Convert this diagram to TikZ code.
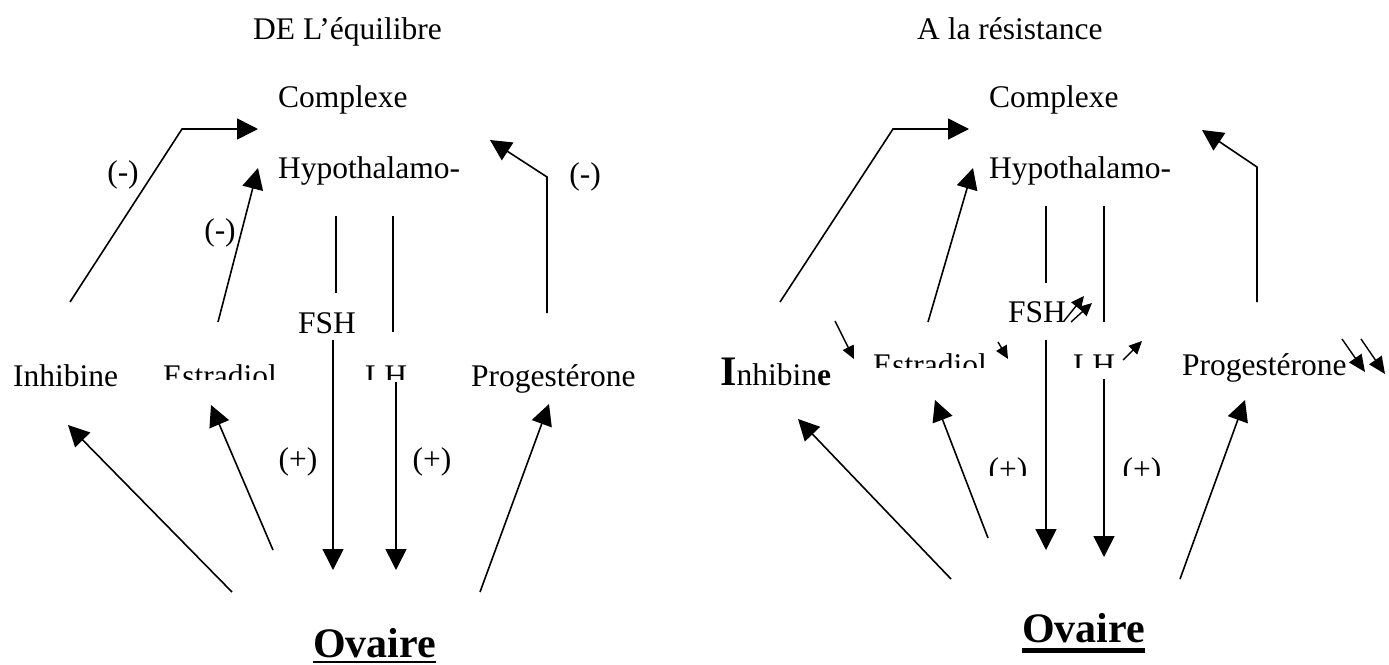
\documentclass[tikz,border=0pt]{standalone}
\usepackage{fontspec}
\setmainfont{Liberation Serif}
\usetikzlibrary{arrows.meta}
\begin{document}
\begin{tikzpicture}[x=1pt,y=-1pt,
  txt/.style={inner sep=0pt, anchor=base west, font=\fontsize{31.5}{36}\selectfont},
  ctr/.style={inner sep=0pt, anchor=center, font=\fontsize{31.5}{36}\selectfont},
  bigbold/.style={inner sep=0pt, anchor=base west, font=\fontsize{42}{48}\selectfont\bfseries},
  conn/.style={line width=1.6pt, line join=miter},
  arr/.style={conn, -{Triangle[length=21pt,width=21pt]}},
  sarr/.style={line width=1.4pt, -{Triangle[length=13pt,width=12pt]}},
  larr/.style={line width=1.4pt, -{Triangle[length=17pt,width=15pt]}},
]
\fill[white] (0,0) rectangle (1389,664);
\useasboundingbox (0,0) rectangle (1389,664);

% ---------------- Left panel ----------------
\node[txt] (titleL) at (253,39) {DE L’équilibre};
\node[txt] (cxL) at (278,107) {Complexe};
\node[txt] (hyL) at (278,178) {Hypothalamo-};
\node[ctr] (m1L) at (123,175) {(-)};
\node[ctr] (m2L) at (220,233) {(-)};
\node[ctr] (m3L) at (585,177) {(-)};
\node[txt] (fshL) at (298,333) {FSH};
\node[txt] (inhL) at (13,386) {Inhibine};
\node[txt] (progL) at (471,386) {Progestérone};
\begin{scope}
  \clip (150,340) rectangle (420,379);
  \node[txt] (estL) at (163,386) {Estradiol};
  \node[txt] (lhL) at (365,386) {LH};
\end{scope}
\node[ctr] (p1L) at (298,462) {(+)};
\node[ctr] (p2L) at (432,462) {(+)};
\node[bigbold] (ovL) at (313,657) {Ovaire};
\draw[line width=2pt] ([yshift=-5pt]ovL.base west) -- ([yshift=-5pt]ovL.base east);

\coordinate (iL0) at (70,302);  \coordinate (iL1) at (182,129); \coordinate (iL2) at (258,129);
\coordinate (eL0) at (218,322); \coordinate (eL1) at (258,168);
\coordinate (gL0) at (547,313); \coordinate (gL1) at (547,177); \coordinate (gL2) at (490,140);
\coordinate (fL0) at (336,216); \coordinate (fL1) at (336,293);
\coordinate (lL0) at (393,216); \coordinate (lL1) at (393,332);
\coordinate (fL2) at (333,340); \coordinate (fL3) at (333,570);
\coordinate (lL2) at (396,382); \coordinate (lL3) at (396,570);
\coordinate (oiL0) at (232,592); \coordinate (oiL1) at (68,425);
\coordinate (oeL0) at (273,550); \coordinate (oeL1) at (211,405);
\coordinate (ogL0) at (480,592); \coordinate (ogL1) at (549,404);

\draw[arr] (iL0) -- (iL1) -- (iL2);
\draw[arr] (eL0) -- (eL1);
\draw[arr] (gL0) -- (gL1) -- (gL2);
\draw[conn] (fL0) -- (fL1);
\draw[conn] (lL0) -- (lL1);
\draw[arr] (fL2) -- (fL3);
\draw[arr] (lL2) -- (lL3);
\draw[arr] (oiL0) -- (oiL1);
\draw[arr] (oeL0) -- (oeL1);
\draw[arr] (ogL0) -- (ogL1);

% ---------------- Right panel ----------------
\node[txt] (titleR) at (917,39) {A la résistance};
\node[txt] (cxR) at (989,107) {Complexe};
\node[txt] (hyR) at (989,178) {Hypothalamo-};
\node[txt] (fshR) at (1008,322) {FSH};
\node[txt] (inhR) at (720,385) {{\fontsize{42}{48}\selectfont\bfseries I}nhibin{\bfseries e}};
\node[txt] (progR) at (1182,375) {Progestérone};
\begin{scope}
  \clip (860,330) rectangle (1120,367);
  \node[txt] (estR) at (873,375) {Estradiol};
  \node[txt] (lhR) at (1073,375) {LH};
\end{scope}
\begin{scope}
  \clip (980,440) rectangle (1170,475);
  \node[ctr] (p1R) at (1008,472) {(+)};
  \node[ctr] (p2R) at (1142,472) {(+)};
\end{scope}
\node[bigbold] (ovR) at (1022,642) {Ovaire};
\draw[line width=4.5pt] ([yshift=-8.5pt]ovR.base west) -- ([yshift=-8.5pt]ovR.base east);

\coordinate (iR0) at (780,302);  \coordinate (iR1) at (893,129); \coordinate (iR2) at (969,129);
\coordinate (eR0) at (928,322);  \coordinate (eR1) at (973,168);
\coordinate (gR0) at (1257,302); \coordinate (gR1) at (1257,167); \coordinate (gR2) at (1202,130);
\coordinate (fR0) at (1046,206); \coordinate (fR1) at (1046,283);
\coordinate (lR0) at (1104,206); \coordinate (lR1) at (1104,322);
\coordinate (fR2) at (1046,340); \coordinate (fR3) at (1046,550);
\coordinate (lR2) at (1104,379); \coordinate (lR3) at (1104,557);
\coordinate (oiR0) at (951,579);  \coordinate (oiR1) at (798,419);
\coordinate (oeR0) at (988,538);  \coordinate (oeR1) at (935,400);
\coordinate (ogR0) at (1180,579); \coordinate (ogR1) at (1245,400);
% small arrows
\coordinate (s1a) at (1064,321); \coordinate (s1b) at (1084,296);
\coordinate (s2a) at (1071,322); \coordinate (s2b) at (1092,303);
\coordinate (s3a) at (835,321);  \coordinate (s3b) at (854,359);
\coordinate (s4a) at (998,342);  \coordinate (s4b) at (1008,359);
\coordinate (s5a) at (1123,360); \coordinate (s5b) at (1142,341);
\coordinate (s6a) at (1342,339); \coordinate (s6b) at (1365,372);
\coordinate (s7a) at (1361,339); \coordinate (s7b) at (1385,374);

\draw[arr] (iR0) -- (iR1) -- (iR2);
\draw[arr] (eR0) -- (eR1);
\draw[arr] (gR0) -- (gR1) -- (gR2);
\draw[conn] (fR0) -- (fR1);
\draw[conn] (lR0) -- (lR1);
\draw[arr] (fR2) -- (fR3);
\draw[arr] (lR2) -- (lR3);
\draw[arr] (oiR0) -- (oiR1);
\draw[arr] (oeR0) -- (oeR1);
\draw[arr] (ogR0) -- (ogR1);
\draw[sarr] (s1a) -- (s1b);
\draw[sarr] (s2a) -- (s2b);
\draw[sarr] (s3a) -- (s3b);
\draw[sarr] (s4a) -- (s4b);
\draw[sarr] (s5a) -- (s5b);
\draw[larr] (s6a) -- (s6b);
\draw[larr] (s7a) -- (s7b);
\end{tikzpicture}
\end{document}
